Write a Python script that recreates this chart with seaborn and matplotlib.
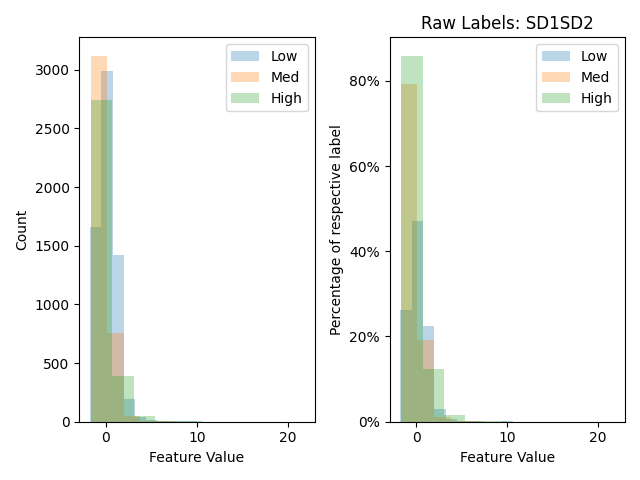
import numpy as np
import matplotlib
matplotlib.use("Agg")
import matplotlib.pyplot as plt
import seaborn as sns
from matplotlib.ticker import PercentFormatter

# bin counts per label, 10 bins each
labels = ["Low", "Med", "High"]
low_counts = [1660, 2990, 1425, 195, 40, 12, 4, 3, 3, 5]
med_counts = [3120, 754, 45, 10, 3, 1, 0, 0, 0, 1]
high_counts = [2742, 392, 48, 7, 2, 0, 0, 0, 0, 1]

# value range of each label (first and last bin edge)
low_range = (-1.75, 10.66)
med_range = (-1.70, 16.60)
high_range = (-1.65, 21.79)

colors = ["tab:blue", "tab:orange", "tab:green"]
series = [
    (low_counts, low_range),
    (med_counts, med_range),
    (high_counts, high_range),
]

fig, axes = plt.subplots(1, 2, figsize=(6.4, 4.8), dpi=100)

for label, color, (counts, rng) in zip(labels, colors, series):
    counts = np.array(counts, dtype=float)
    n_bins = len(counts)
    edges = np.linspace(rng[0], rng[1], n_bins + 1)
    centers = (edges[:-1] + edges[1:]) / 2
    pct = counts / counts.sum() * 100

    sns.histplot(x=centers, weights=counts, bins=n_bins, binrange=rng,
                 color=color, alpha=0.3, linewidth=0, label=label, ax=axes[0])
    sns.histplot(x=centers, weights=pct, bins=n_bins, binrange=rng,
                 color=color, alpha=0.3, linewidth=0, label=label, ax=axes[1])

axes[0].set_xlabel("Feature Value")
axes[0].set_ylabel("Count")
axes[0].legend(loc="upper right")

axes[1].set_xlabel("Feature Value")
axes[1].set_ylabel("Percentage of respective label")
axes[1].set_title("Raw Labels: SD1SD2")
axes[1].yaxis.set_major_formatter(PercentFormatter(100, decimals=0))
axes[1].legend(loc="upper right")

plt.tight_layout()
plt.savefig("out.png", dpi=100)
